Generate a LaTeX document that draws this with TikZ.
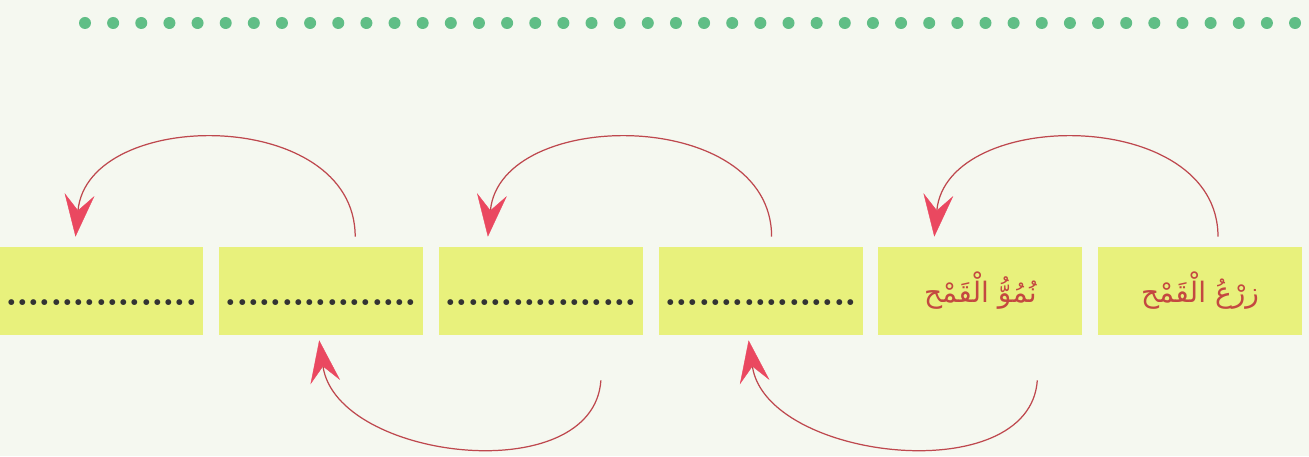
\documentclass[tikz,border=0pt]{standalone}
\usepackage{fontspec}
\usepackage{xcolor}
\usetikzlibrary{arrows.meta, positioning, calc}
\newfontfamily\arabicfont[Script=Arabic]{DejaVu Sans}
\TeXXeTstate=1
\definecolor{pagebg}{RGB}{245,248,240}
\definecolor{boxfill}{RGB}{232,241,124}
\definecolor{wordred}{RGB}{196,72,64}
\definecolor{curvered}{RGB}{190,72,78}
\definecolor{tipred}{RGB}{234,72,96}
\definecolor{beadgreen}{RGB}{96,190,134}
\tikzstyle{stage} = [rectangle, minimum width=4.08cm, minimum height=1.76cm,
    inner sep=0pt, fill=boxfill, text=wordred,
    font=\arabicfont\fontsize{16}{19}\selectfont]
\tikzstyle{blank} = [stage, text=black!80, font=\fontsize{23}{26}\selectfont\bfseries]
\tikzstyle{arrow} = [draw=curvered, line width=0.7pt,
    -{Stealth[length=24pt, width=17pt, inset=9pt, color=tipred, fill=tipred, line width=0.2pt]}]
\newcommand{\blankdots}{\rule{0pt}{17pt}\hbox to 108.8pt{\leaders\hbox to 6.4pt{\hss.\hss}\hfill}}

\begin{document}
\begin{tikzpicture}[node distance=0.3cm]
  \fill[pagebg] (0,0) rectangle (26.18,9.12);
  \useasboundingbox (0,0) rectangle (26.18,9.12);
  % row of green beads
  \foreach \i in {0,...,43}
    \fill[beadgreen] (1.70+0.5628*\i, 8.66) circle (0.12);

  \node (sow)    [stage] at (24.0,3.30) {\beginR زرْعُ الْقَمْح\endR};
  \node (grow)   [stage, left=of sow]    {\beginR نُمُوُّ الْقَمْح\endR};
  \node (third)  [blank, left=of grow]   {\blankdots};
  \node (fourth) [blank, left=of third]  {\blankdots};
  \node (fifth)  [blank, left=of fourth] {\blankdots};
  \node (sixth)  [blank, left=of fifth]  {\blankdots};

  \draw[arrow] ($(sow.north)+(0.36,0.2)$) .. controls +(0,2.6) and +(0.25,2.6) .. ($(grow.north)+(-0.92,0.2)$);
  \draw[arrow] ($(grow.south)+(1.14,-0.9)$) .. controls +(-0.15,-2.2) and +(0.35,-2.4) .. ($(third.south)+(-0.24,-0.1)$);
  \draw[arrow] ($(third.north)+(0.22,0.2)$) .. controls +(0,2.6) and +(0.25,2.6) .. ($(fourth.north)+(-1.06,0.2)$);
  \draw[arrow] ($(fourth.south)+(1.2,-0.9)$) .. controls +(-0.15,-2.2) and +(0.35,-2.4) .. ($(fifth.south)+(-0.04,-0.1)$);
  \draw[arrow] ($(fifth.north)+(0.68,0.2)$) .. controls +(0,2.6) and +(0.25,2.6) .. ($(sixth.north)+(-0.52,0.2)$);
\end{tikzpicture}
\end{document}
